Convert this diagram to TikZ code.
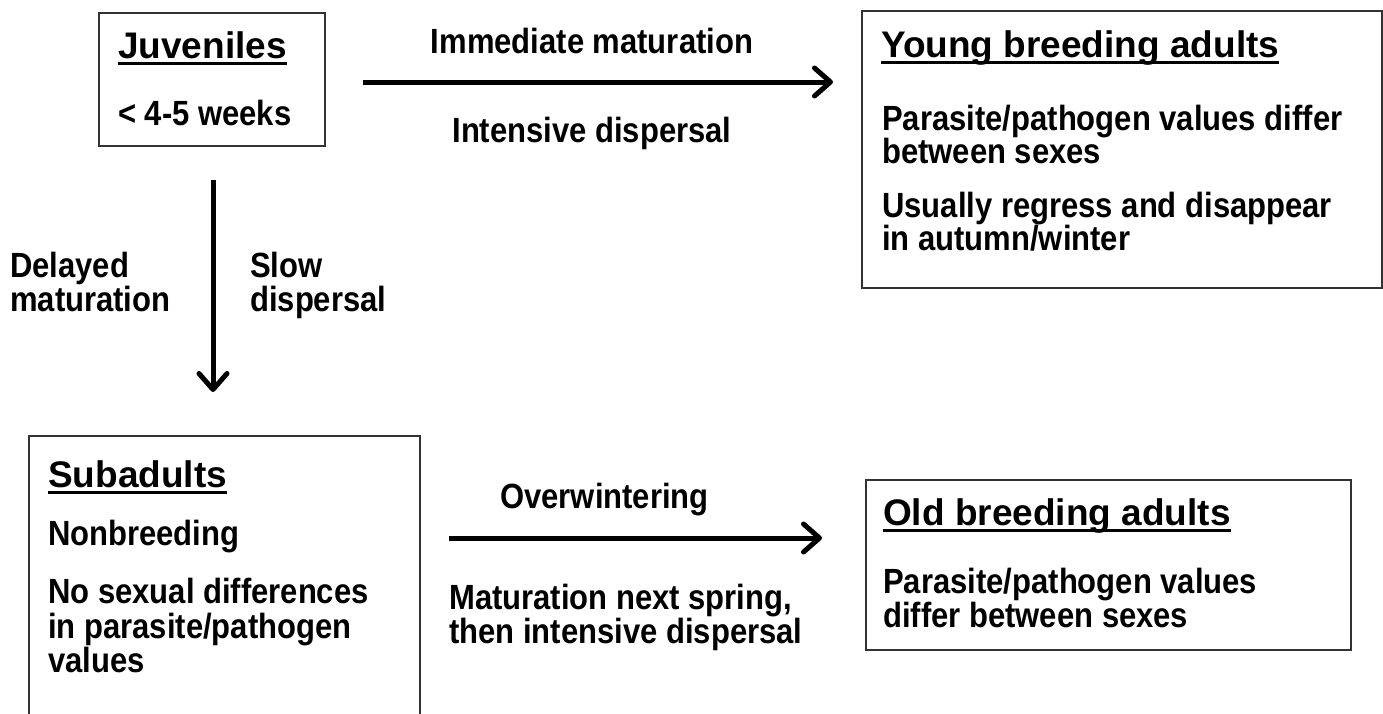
\documentclass[tikz,border=0pt]{standalone}
\usepackage{fontspec}
\setmainfont{Liberation Sans}
\newfontfamily\bodyfont[FakeStretch=0.886]{Liberation Sans}
\usetikzlibrary{arrows.meta}
\newcommand{\myul}[1]{\setbox0\hbox{#1}\rlap{\rule[-7pt]{\wd0}{2.8pt}}\box0}
\tikzset{
  box/.style={draw=black!80, line width=1.5pt, rectangle, inner sep=0pt, anchor=north west},
  txt/.style={inner sep=0pt, anchor=base west, font=\bodyfont\fontsize{35}{38}\selectfont\bfseries},
  ttl/.style={inner sep=0pt, anchor=base west, font=\fontsize{37}{40}\selectfont\bfseries},
  flow/.style={line width=5pt, -{Straight Barb[length=16pt, width=28pt, line width=5pt, round]}}
}
\begin{document}
\begin{tikzpicture}[x=1pt, y=-1pt]
\useasboundingbox (0,0) rectangle (1383,713);
\clip (0,0) rectangle (1383,713);
% boxes
\node[box, minimum width=226pt, minimum height=133pt] (juvbox) at (98,12) {};
\node[box, minimum width=520pt, minimum height=277pt] (youngbox) at (861,10) {};
\node[box, minimum width=391pt, minimum height=300pt] (subbox) at (28,435) {};
\node[box, minimum width=485pt, minimum height=170pt] (oldbox) at (865,479) {};
% juveniles
\node[ttl] (juvT) at (118,58) {\myul{Juveniles}};
\node[txt] (juv1) at (118,125) {< 4-5 weeks};
% young
\node[ttl] (youngT) at (881,57) {\myul{Young breeding adults}};
\node[txt] (young1) at (882,130) {Parasite/pathogen values differ};
\node[txt] (young2) at (882,163) {between sexes};
\node[txt] (young3) at (882,217) {Usually regress and disappear};
\node[txt] (young4) at (882,250) {in autumn/winter};
% top arrow labels
\node[txt, anchor=base] (imm) at (592,53) {Immediate maturation};
\node[txt, anchor=base] (intd) at (592,142) {Intensive dispersal};
% vertical arrow labels
\node[txt] (del1) at (10,277) {Delayed};
\node[txt] (del2) at (10,311) {maturation};
\node[txt] (slow1) at (250,277) {Slow};
\node[txt] (slow2) at (250,311) {dispersal};
% subadults
\node[ttl] (subT) at (48,487) {\myul{Subadults}};
\node[txt] (sub1) at (48,545) {Nonbreeding};
\node[txt] (sub2) at (48,603) {No sexual differences};
\node[txt] (sub3) at (48,638) {in parasite/pathogen};
\node[txt] (sub4) at (48,672) {values};
% bottom arrow labels
\node[txt] (ovw) at (500,508) {Overwintering};
\node[txt] (mat1) at (449,609) {Maturation next spring,};
\node[txt] (mat2) at (449,643) {then intensive dispersal};
% old
\node[ttl] (oldT) at (883,525) {\myul{Old breeding adults}};
\node[txt] (old1) at (883,593) {Parasite/pathogen values};
\node[txt] (old2) at (883,627) {differ between sexes};
% arrow endpoints
\coordinate (a1s) at (363,82);
\coordinate (a1e) at (833,82);
\coordinate (a2s) at (213,180);
\coordinate (a2e) at (213,392);
\coordinate (a3s) at (449,538);
\coordinate (a3e) at (822,538);
\draw[flow] (a1s) -- (a1e);
\draw[flow] (a2s) -- (a2e);
\draw[flow] (a3s) -- (a3e);
\end{tikzpicture}
\end{document}
